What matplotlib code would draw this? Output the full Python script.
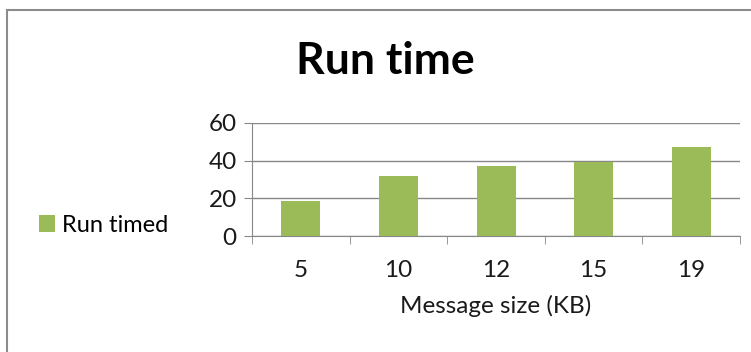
import matplotlib.pyplot as plt
from matplotlib.patches import Rectangle
import numpy as np

# data
sizes = ["5", "10", "12", "15", "19"]
run_times = [18.7, 31.7, 37.0, 39.1, 47.3]

bar_color = "#9BBB59"
grid_color = "#878787"
text_color = "#1a1a1a"

plt.rcParams["font.family"] = ["Lato", "DejaVu Sans"]

fig = plt.figure(figsize=(7.51, 3.52), dpi=100)
ax = fig.add_axes([0.3356, 0.3295, 0.6498, 0.3211])

x = np.arange(len(sizes))
bars = ax.bar(x, run_times, width=0.4, color=bar_color, label="Run timed", zorder=3)

ax.set_xlim(-0.5, len(sizes) - 0.5)
ax.set_ylim(0, 60)
ax.set_yticks([0, 20, 40, 60])
ax.grid(axis="y", color=grid_color, linewidth=1, zorder=0)

for side in ["top", "right"]:
    ax.spines[side].set_visible(False)
ax.spines["left"].set_color(grid_color)
ax.spines["bottom"].set_color(grid_color)

# category labels centred, ticks at the boundaries
ax.set_xticks(x)
ax.set_xticklabels(sizes, fontsize=17.5, color=text_color)
ax.tick_params(axis="x", length=0, pad=17)
ax.set_xticks(np.arange(-0.5, len(sizes)), minor=True)
ax.tick_params(axis="x", which="minor", length=6, color=grid_color, direction="out")
ax.tick_params(axis="y", length=6, color=grid_color, labelsize=17.5, labelcolor=text_color, pad=5)

ax.set_xlabel("Message size (KB)", fontsize=17.5, color=text_color, labelpad=10)

fig.text(0.513, 0.828, "Run time", fontsize=32, fontweight="bold", ha="center", va="center")

fig.legend(handles=[bars], labels=["Run timed"], loc="center left",
           bbox_to_anchor=(0.036, 0.36), frameon=False, fontsize=17,
           handlelength=0.7, handleheight=0.7, handletextpad=0.3, borderpad=0)

# chart-area border
fig.add_artist(Rectangle((7 / 751, -0.1), 1.2, 1 - 10 / 352 + 0.1,
                         transform=fig.transFigure, fill=False,
                         edgecolor="#8c8c8c", linewidth=1.5))

fig.savefig("out.png", dpi=100)
